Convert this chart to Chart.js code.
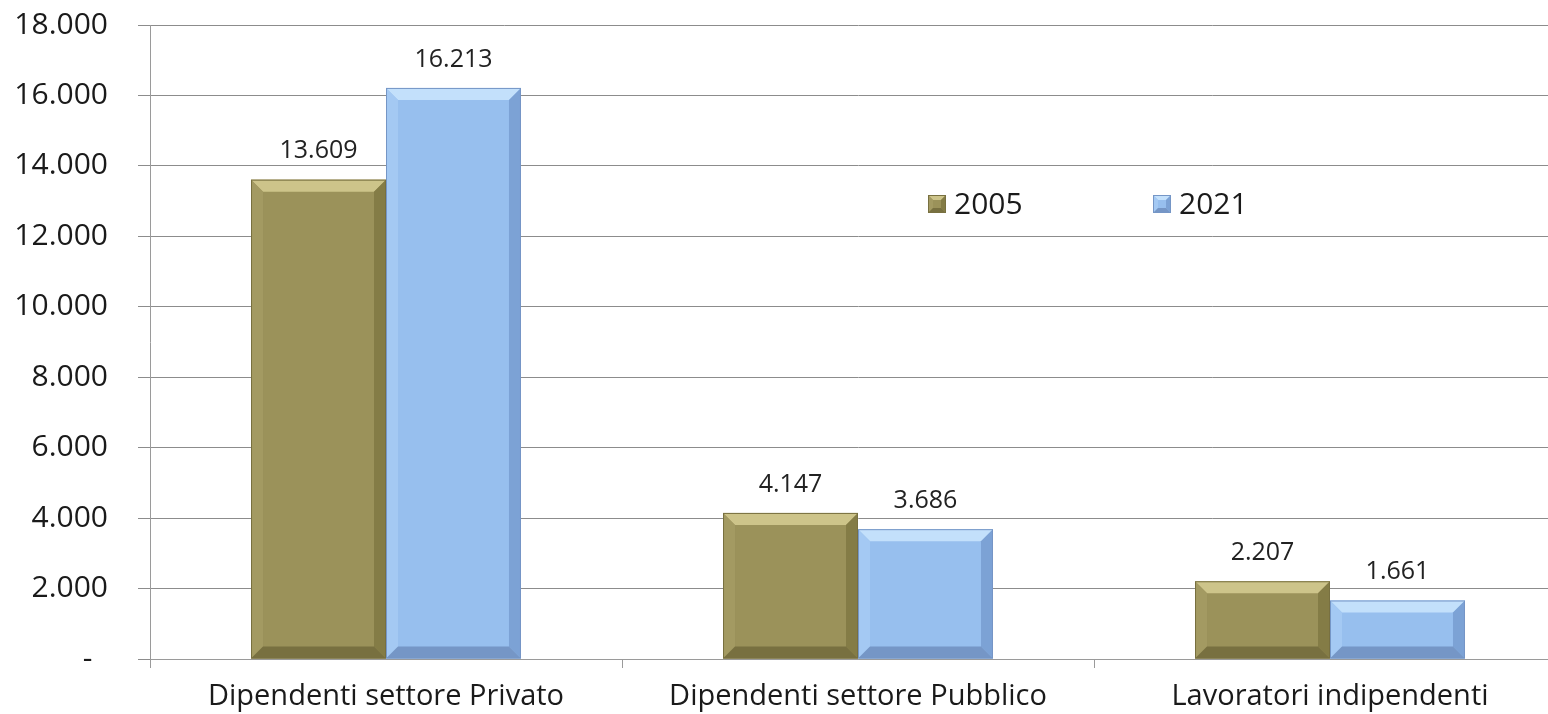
<!DOCTYPE html>
<html>
<head>
<meta charset="utf-8">
<script src="https://cdn.jsdelivr.net/npm/chart.js@4/dist/chart.umd.min.js"></script>
<style>
  html, body { margin: 0; padding: 0; background: #fff; overflow: hidden; }
  #wrap { position: relative; width: 1570px; height: 714px; }
</style>
</head>
<body>
<div id="wrap"><canvas id="chart"></canvas></div>
<script>
const categories = ['Dipendenti settore Privato', 'Dipendenti settore Pubblico', 'Lavoratori indipendenti'];
const years = ['2005', '2021'];
const values2005 = [13609, 4147, 2207];
const values2021 = [16213, 3686, 1661];
const yTicks = [0, 2000, 4000, 6000, 8000, 10000, 12000, 14000, 16000, 18000];

const FONT = '"Open Sans", "Noto Sans", sans-serif';

const PALETTE = [
  { base: '#9b925a', top: '#cdc48a', left: '#a39a62', right: '#847c46', bottom: '#787040' },
  { base: '#97bfee', top: '#c3e0fb', left: '#a4c9f3', right: '#7ca2d5', bottom: '#7596c6' },
];

function fmt(v) {
  if (v === 0) return '-';
  return String(v).replace(/\B(?=(\d{3})+(?!\d))/g, '.');
}

// bevel edges on each bar, like the office 3d bar style
function bevel(ctx, x0, y0, x1, y1, c, b) {
  b = Math.min(b, (x1 - x0) / 2, (y1 - y0) / 2);
  const poly = (pts, col) => {
    ctx.beginPath();
    ctx.moveTo(pts[0][0], pts[0][1]);
    for (let i = 1; i < pts.length; i++) ctx.lineTo(pts[i][0], pts[i][1]);
    ctx.closePath();
    ctx.fillStyle = col;
    ctx.fill();
  };
  ctx.fillStyle = c.base;
  ctx.fillRect(x0, y0, x1 - x0, y1 - y0);
  poly([[x0, y0], [x1, y0], [x1 - b, y0 + b], [x0 + b, y0 + b]], c.top);
  poly([[x0, y0], [x0 + b, y0 + b], [x0 + b, y1 - b], [x0, y1]], c.left);
  poly([[x1, y0], [x1, y1], [x1 - b, y1 - b], [x1 - b, y0 + b]], c.right);
  poly([[x0, y1], [x0 + b, y1 - b], [x1 - b, y1 - b], [x1, y1]], c.bottom);
  ctx.strokeStyle = c.bottom;
  ctx.lineWidth = 1;
  ctx.strokeRect(x0 + 0.5, y0 + 0.5, x1 - x0 - 1, y1 - y0 - 1);
}

const bevelBars = {
  id: 'bevelBars',
  afterDatasetsDraw(chart) {
    const ctx = chart.ctx;
    ctx.save();
    chart.data.datasets.forEach((ds, i) => {
      const meta = chart.getDatasetMeta(i);
      meta.data.forEach((bar, j) => {
        const p = bar.getProps(['x', 'y', 'base', 'width'], true);
        const x0 = p.x - p.width / 2, x1 = p.x + p.width / 2;
        bevel(ctx, x0, p.y, x1, p.base, PALETTE[i], 12);
        ctx.fillStyle = '#222';
        ctx.font = '25px ' + FONT;
        ctx.textAlign = 'center';
        ctx.textBaseline = 'bottom';
        ctx.fillText(fmt(ds.data[j]), p.x, p.y - 16);
      });
    });
    ctx.restore();
  },
};

const innerLegend = {
  id: 'innerLegend',
  afterDraw(chart) {
    const ctx = chart.ctx;
    const a = chart.chartArea;
    const y = a.top + 179;
    const xs = [a.left + 778, a.left + 1003];
    ctx.save();
    years.forEach((label, i) => {
      bevel(ctx, xs[i], y - 9, xs[i] + 18, y + 9, PALETTE[i], 5);
      ctx.fillStyle = '#1a1a1a';
      ctx.font = '30px ' + FONT;
      ctx.textAlign = 'left';
      ctx.textBaseline = 'middle';
      ctx.fillText(label, xs[i] + 26, y + 1);
    });
    ctx.restore();
  },
};

new Chart(document.getElementById('chart'), {
  type: 'bar',
  data: {
    labels: categories,
    datasets: [
      { label: years[0], data: values2005, backgroundColor: 'rgba(0,0,0,0)' },
      { label: years[1], data: values2021, backgroundColor: 'rgba(0,0,0,0)' },
    ],
  },
  options: {
    responsive: true,
    maintainAspectRatio: false,
    animation: false,
    datasets: { bar: { categoryPercentage: 0.572, barPercentage: 1 } },
    layout: { padding: { top: 25, right: 4, left: 0, bottom: 0 } },
    plugins: { legend: { display: false }, tooltip: { enabled: false } },
    scales: {
      x: {
        grid: { offset: true, drawOnChartArea: false, tickLength: 9, color: '#9a9a9a' },
        border: { display: true, color: '#9a9a9a' },
        ticks: { color: '#1a1a1a', font: { family: FONT, size: 29 }, padding: 11, maxRotation: 0 },
        afterFit(scale) { scale.height = 55; },
      },
      y: {
        min: 0,
        max: 18000,
        afterBuildTicks(scale) { scale.ticks = yTicks.map((v) => ({ value: v })); },
        grid: { color: '#8c8c8c', tickLength: 12 },
        border: { display: true, color: '#9a9a9a' },
        ticks: {
          color: '#1a1a1a',
          font: { family: FONT, size: 30 },
          padding: 30,
          // excel puts the zero dash a bit to the left
          callback: (v) => (v === 0 ? '-  ' : fmt(v)),
        },
        afterFit(scale) {
          scale.width = 150;
          scale.paddingTop = 0;
          scale.paddingBottom = 0;
        },
      },
    },
  },
  plugins: [bevelBars, innerLegend],
});
</script>
</body>
</html>
